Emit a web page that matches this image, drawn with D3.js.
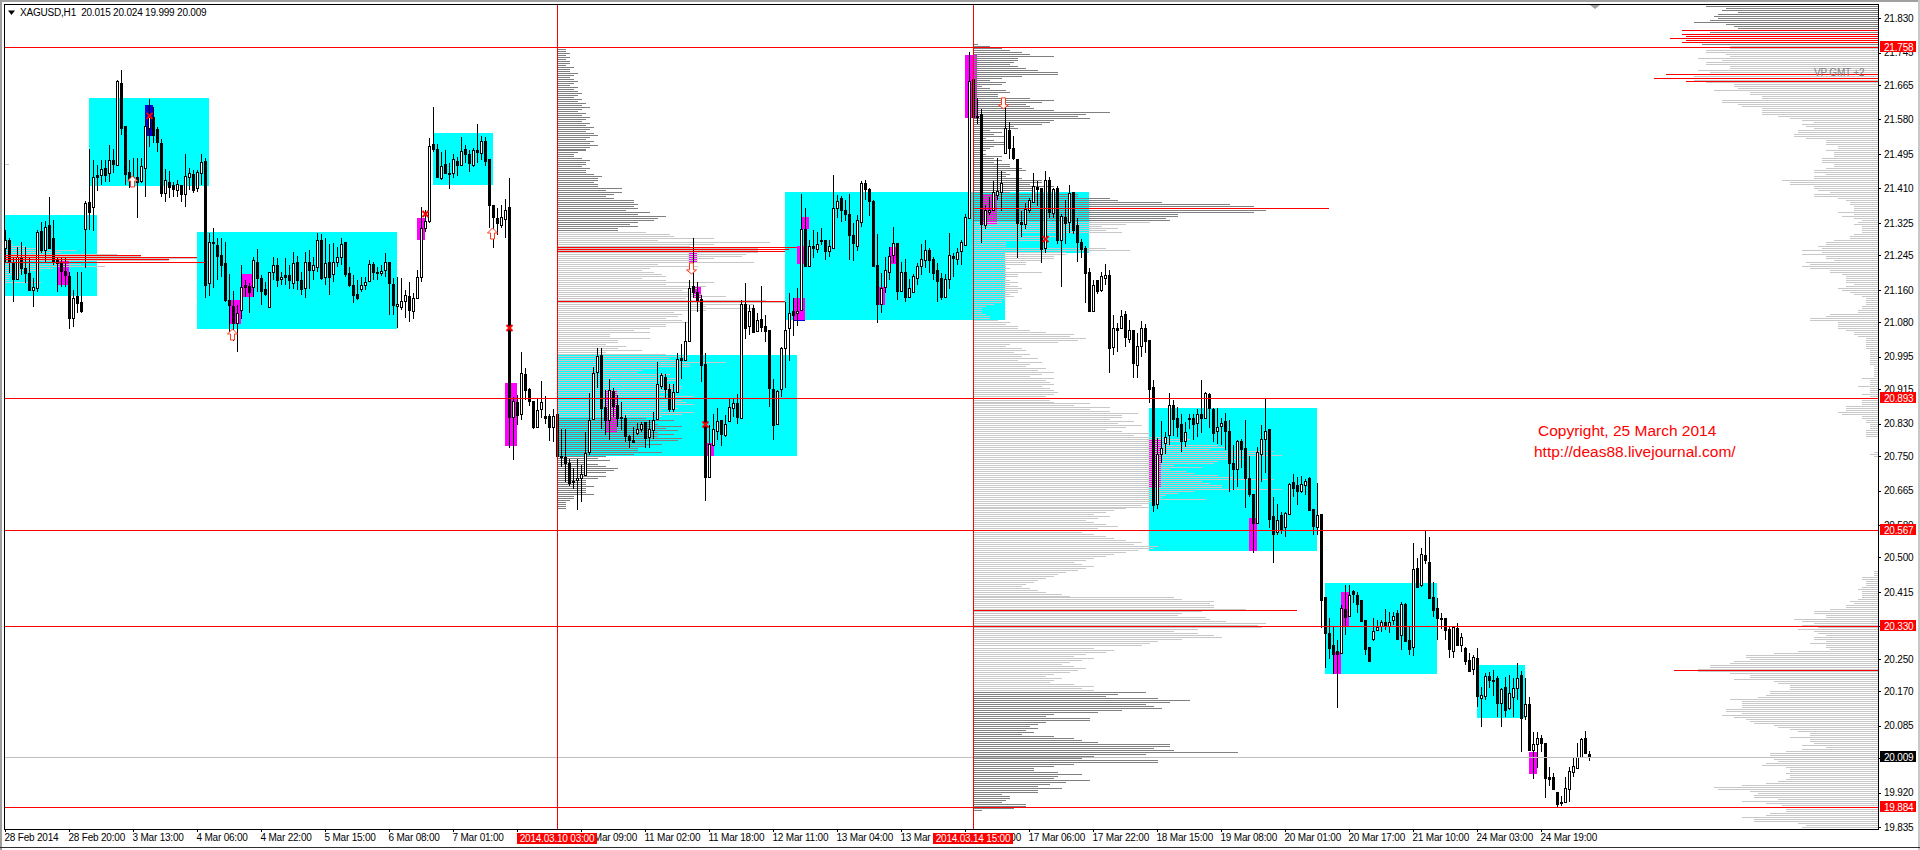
<!DOCTYPE html>
<html><head><meta charset="utf-8">
<script src="https://cdn.jsdelivr.net/npm/d3@7/dist/d3.min.js"></script>
<style>
html,body{margin:0;padding:0;background:#fff;overflow:hidden}
svg{display:block}
text{font-family:"Liberation Sans",Arial,sans-serif;font-size:10px;letter-spacing:-0.2px;fill:#000}
</style></head><body><svg id="c" width="1920" height="850"></svg>
<script>
const symbol="XAGUSD,H1", lastQuote="20.015 20.024 19.999 20.009";
const sides=("wbbwbbbwwb"+"wbbbbbbwbb"+"wbwbwbwbwb"+"bbwbwwwbbb"+"wbbwbwwbww"+"bwbbbbbbww"+"bbwbbbwwbw"+"bbwbbwbwwb"+"wbwwwbbbbw"+"wwbbwwbbww"+
"wbwwwwwbbw"+"bbwbwbbwbw"+"bbbbwwbwbw"+"bbbwwbbwbb"+"bbwwwwwwwb"+"bwbbbbbbww"+"bwwwwbbwwb"+"wwbbbbwwwb"+"wwwbwbwbwb"+"bbbwwwwbww"+
"bwbwbbwwwb"+"bbbwwbbbbw"+"wwwbwbwwww"+"wbbbbwwbww"+"wwbbbwwwww"+"wbbbbwwwbb"+"wbwbwbwbbb"+"bbwbwwbwbw"+"bwbwwbbbww"+"wwbbbwbbwb"+
"wbbwwbbbwb"+"bbbwwwbbwb"+"wwbbwwbbwb"+"bbbbwbwbbb"+"bbwwwbwwbw"+"bbwbwbbbbb"+"bbwbwbbwbw"+"wbbbwbwwwb"+"wbwwbbbbbb"+"wwwwwbb").split("");
const highs=[21.307,21.287,21.242,21.266,21.279,21.266,21.242,21.188,21.307,21.328,
21.330,21.390,21.332,21.242,21.242,21.238,21.205,21.160,21.205,21.205,
21.379,21.507,21.480,21.468,21.480,21.480,21.517,21.507,21.677,21.702,
21.564,21.480,21.484,21.484,21.484,21.579,21.630,21.612,21.562,21.531,
21.458,21.453,21.427,21.432,21.418,21.495,21.460,21.455,21.455,21.496,
21.484,21.299,21.312,21.287,21.287,21.279,21.199,21.157,21.122,21.221,
21.184,21.176,21.242,21.260,21.196,21.180,21.205,21.242,21.238,21.205,
21.238,21.221,21.254,21.243,21.205,21.254,21.258,21.242,21.299,21.297,
21.289,21.272,21.275,21.266,21.287,21.277,21.217,21.196,21.184,21.192,
21.192,21.233,21.229,21.217,21.221,21.250,21.229,21.188,21.192,21.188,
21.160,21.180,21.151,21.209,21.363,21.357,21.534,21.610,21.519,21.501,
21.505,21.472,21.496,21.488,21.536,21.517,21.505,21.509,21.569,21.540,
21.538,21.482,21.369,21.361,21.369,21.383,21.435,20.896,20.901,21.006,
20.966,20.919,20.887,20.892,20.935,20.898,20.854,20.865,20.855,20.818,
20.818,20.744,20.720,20.744,20.728,20.810,20.905,20.970,21.016,21.016,
20.913,20.940,20.917,20.901,20.884,20.851,20.802,20.822,20.831,20.835,
20.835,20.839,20.859,20.981,20.954,20.952,20.929,20.929,21.003,21.026,
21.081,21.184,21.289,21.180,21.147,21.003,20.827,20.854,20.868,20.838,
20.851,20.890,20.892,20.902,21.136,21.176,21.122,21.122,21.102,21.169,
21.099,21.061,20.940,20.913,21.020,21.131,21.153,21.139,21.164,21.396,
21.362,21.283,21.307,21.303,21.312,21.284,21.283,21.443,21.394,21.391,
21.381,21.396,21.324,21.344,21.428,21.431,21.410,21.381,21.298,21.202,
21.242,21.266,21.314,21.274,21.229,21.237,21.186,21.199,21.225,21.274,
21.283,21.262,21.242,21.225,21.201,21.199,21.301,21.252,21.264,21.283,
21.348,21.746,21.681,21.632,21.607,21.369,21.390,21.428,21.484,21.453,
21.616,21.573,21.539,21.482,21.355,21.375,21.387,21.447,21.428,21.410,
21.453,21.439,21.412,21.416,21.347,21.381,21.418,21.400,21.336,21.285,
21.268,21.214,21.184,21.184,21.205,21.224,21.209,21.098,21.077,21.110,
21.108,21.086,21.061,21.053,21.083,21.076,21.036,20.938,20.794,20.837,
20.810,20.905,20.888,20.870,20.855,20.835,20.855,20.855,20.865,20.938,
20.907,20.905,20.868,20.868,20.843,20.857,20.839,20.777,20.790,20.791,
20.839,20.749,20.656,20.773,20.827,20.892,20.816,20.650,20.631,20.613,
20.613,20.683,20.705,20.699,20.701,20.693,20.698,20.619,20.683,20.606,
20.402,20.350,20.329,20.296,20.383,20.432,20.432,20.420,20.416,20.395,
20.346,20.280,20.350,20.347,20.346,20.374,20.366,20.366,20.370,20.391,
20.387,20.329,20.535,20.498,20.523,20.566,20.551,20.440,20.399,20.362,
20.350,20.329,20.328,20.338,20.315,20.280,20.264,20.260,20.276,20.181,
20.214,20.218,20.223,20.208,20.177,20.206,20.209,20.202,20.241,20.221,
20.202,20.157,20.070,20.070,20.062,20.042,19.984,19.968,19.921,19.912,
19.959,19.984,20.007,20.042,20.054,20.072,20.024];
const lows=[21.225,21.201,21.131,21.184,21.196,21.176,21.160,21.118,21.155,21.250,
21.225,21.262,21.221,21.155,21.168,21.168,21.063,21.069,21.102,21.102,
21.215,21.307,21.306,21.404,21.418,21.427,21.427,21.447,21.467,21.542,
21.418,21.410,21.414,21.338,21.423,21.390,21.513,21.523,21.501,21.388,
21.377,21.387,21.390,21.390,21.376,21.363,21.406,21.398,21.402,21.418,
21.139,21.145,21.164,21.184,21.192,21.131,21.050,21.035,21.007,21.087,
21.143,21.104,21.143,21.155,21.122,21.145,21.118,21.184,21.168,21.172,
21.172,21.161,21.161,21.160,21.147,21.139,21.161,21.184,21.205,21.184,
21.172,21.147,21.180,21.217,21.221,21.192,21.168,21.127,21.135,21.155,
21.160,21.180,21.184,21.184,21.194,21.192,21.098,21.098,21.065,21.110,
21.090,21.081,21.087,21.139,21.180,21.303,21.324,21.500,21.435,21.432,
21.447,21.409,21.435,21.441,21.468,21.472,21.451,21.464,21.472,21.480,
21.465,21.312,21.264,21.295,21.312,21.289,20.769,20.740,20.827,20.839,
20.888,20.874,20.818,20.821,20.843,20.829,20.788,20.784,20.742,20.724,
20.687,20.676,20.670,20.617,20.638,20.703,20.752,20.840,20.917,20.818,
20.802,20.790,20.847,20.822,20.814,20.785,20.771,20.783,20.802,20.810,
20.771,20.771,20.791,20.839,20.915,20.892,20.859,20.858,20.909,20.941,
20.985,21.032,21.139,21.106,20.933,20.640,20.695,20.775,20.790,20.776,
20.798,20.835,20.847,20.828,20.843,21.039,21.049,21.054,21.055,21.057,
21.032,20.872,20.790,20.829,20.896,20.919,20.985,21.046,21.072,21.109,
21.217,21.219,21.239,21.252,21.270,21.233,21.242,21.261,21.336,21.328,
21.330,21.233,21.231,21.256,21.316,21.381,21.342,21.217,21.077,21.102,
21.151,21.184,21.225,21.136,21.155,21.131,21.141,21.154,21.172,21.196,
21.213,21.202,21.184,21.131,21.135,21.143,21.162,21.192,21.221,21.221,
21.270,21.336,21.585,21.569,21.276,21.310,21.344,21.354,21.381,21.355,
21.495,21.482,21.480,21.239,21.291,21.310,21.349,21.373,21.367,21.225,
21.252,21.338,21.336,21.273,21.168,21.274,21.301,21.298,21.229,21.238,
21.128,21.105,21.108,21.150,21.155,21.172,20.956,20.999,21.007,21.063,
21.020,21.028,20.943,20.943,20.995,21.005,20.880,20.613,20.620,20.732,
20.755,20.777,20.799,20.798,20.761,20.773,20.818,20.790,20.798,20.806,
20.843,20.820,20.784,20.781,20.777,20.765,20.662,20.666,20.675,20.720,
20.621,20.650,20.510,20.584,20.687,20.708,20.572,20.487,20.555,20.559,
20.550,20.605,20.650,20.629,20.658,20.654,20.617,20.555,20.555,20.325,
20.227,20.249,20.213,20.128,20.262,20.309,20.354,20.387,20.362,20.344,
20.259,20.245,20.295,20.319,20.317,20.321,20.315,20.333,20.299,20.272,
20.293,20.259,20.257,20.424,20.426,20.485,20.399,20.354,20.297,20.324,
20.297,20.251,20.251,20.284,20.268,20.235,20.220,20.210,20.132,20.083,
20.148,20.177,20.158,20.107,20.083,20.106,20.124,20.106,20.148,20.021,
20.099,20.023,19.955,19.980,20.021,19.908,19.936,19.928,19.885,19.888,
19.895,19.898,19.959,19.980,20.009,20.015,19.999];
const bodyTop=[21.284,21.284,21.229,21.242,21.238,21.215,21.202,21.166,21.302,21.305,
21.316,21.319,21.289,21.234,21.225,21.207,21.194,21.141,21.145,21.131,
21.373,21.376,21.439,21.443,21.457,21.460,21.479,21.480,21.674,21.669,
21.564,21.450,21.439,21.439,21.466,21.564,21.587,21.587,21.556,21.521,
21.430,21.427,21.418,21.420,21.418,21.440,21.447,21.446,21.450,21.474,
21.477,21.279,21.279,21.270,21.247,21.225,21.135,21.120,21.104,21.168,
21.172,21.169,21.233,21.229,21.188,21.161,21.203,21.220,21.220,21.191,
21.196,21.196,21.225,21.228,21.184,21.228,21.229,21.220,21.283,21.284,
21.225,21.228,21.229,21.242,21.272,21.277,21.201,21.173,21.150,21.173,
21.180,21.223,21.223,21.203,21.207,21.229,21.229,21.174,21.125,21.133,
21.146,21.145,21.139,21.191,21.312,21.329,21.514,21.519,21.507,21.466,
21.470,21.449,21.482,21.478,21.503,21.507,21.496,21.504,21.505,21.528,
21.526,21.482,21.369,21.337,21.339,21.358,21.363,20.886,20.883,20.956,
20.952,20.915,20.887,20.863,20.883,20.849,20.849,20.850,20.855,20.749,
20.748,20.734,20.689,20.697,20.707,20.757,20.840,20.956,20.997,21.000,
20.872,20.913,20.911,20.876,20.847,20.845,20.800,20.790,20.818,20.829,
20.833,20.818,20.840,20.927,20.949,20.944,20.915,20.909,20.989,20.992,
21.033,21.164,21.169,21.155,21.137,20.977,20.781,20.818,20.836,20.838,
20.828,20.870,20.880,20.880,21.124,21.125,21.109,21.114,21.085,21.088,
21.070,21.060,20.915,20.911,21.016,21.062,21.102,21.107,21.108,21.311,
21.310,21.267,21.267,21.272,21.284,21.284,21.267,21.361,21.380,21.386,
21.358,21.346,21.294,21.332,21.423,21.423,21.409,21.379,21.220,21.165,
21.210,21.244,21.275,21.275,21.205,21.205,21.164,21.194,21.219,21.237,
21.257,21.257,21.237,21.208,21.188,21.186,21.247,21.244,21.254,21.277,
21.339,21.676,21.679,21.589,21.594,21.357,21.358,21.400,21.404,21.423,
21.558,21.554,21.509,21.482,21.326,21.359,21.381,21.415,21.413,21.410,
21.432,21.432,21.408,21.410,21.342,21.340,21.398,21.400,21.320,21.278,
21.263,21.204,21.173,21.183,21.195,21.196,21.197,21.065,21.066,21.095,
21.100,21.060,21.061,21.021,21.065,21.065,21.036,20.920,20.755,20.771,
20.798,20.875,20.875,20.845,20.829,20.810,20.843,20.845,20.853,20.854,
20.905,20.903,20.865,20.821,20.831,20.836,20.813,20.734,20.786,20.786,
20.771,20.697,20.656,20.761,20.791,20.813,20.816,20.602,20.592,20.605,
20.610,20.682,20.685,20.679,20.680,20.688,20.696,20.619,20.605,20.606,
20.402,20.313,20.284,20.269,20.375,20.372,20.407,20.417,20.407,20.395,
20.346,20.280,20.319,20.328,20.340,20.342,20.342,20.356,20.362,20.385,
20.385,20.296,20.471,20.473,20.509,20.506,20.488,20.402,20.375,20.351,
20.350,20.323,20.328,20.326,20.303,20.278,20.247,20.254,20.251,20.160,
20.207,20.207,20.199,20.204,20.175,20.180,20.165,20.177,20.202,20.210,
20.139,20.139,20.039,20.056,20.056,20.042,19.959,19.958,19.921,19.897,
19.931,19.973,19.986,20.007,20.052,20.054,20.015];
const bodyBottom=[21.262,21.229,21.187,21.187,21.213,21.202,21.160,21.160,21.164,21.258,
21.258,21.262,21.232,21.225,21.207,21.196,21.090,21.090,21.128,21.108,
21.309,21.353,21.363,21.439,21.443,21.443,21.447,21.470,21.469,21.560,
21.446,21.433,21.427,21.427,21.429,21.460,21.558,21.542,21.525,21.398,
21.398,21.414,21.409,21.405,21.397,21.397,21.437,21.406,21.410,21.447,
21.172,21.176,21.275,21.243,21.221,21.135,21.122,21.077,21.079,21.110,
21.166,21.155,21.168,21.188,21.157,21.150,21.118,21.203,21.183,21.186,
21.192,21.184,21.176,21.184,21.162,21.164,21.210,21.210,21.217,21.188,
21.191,21.192,21.198,21.229,21.242,21.199,21.172,21.146,21.141,21.161,
21.173,21.182,21.205,21.201,21.202,21.209,21.176,21.122,21.120,21.118,
21.132,21.110,21.109,21.141,21.191,21.312,21.330,21.507,21.439,21.436,
21.447,21.447,21.447,21.468,21.469,21.496,21.472,21.468,21.501,21.498,
21.478,21.369,21.340,21.324,21.320,21.334,20.847,20.846,20.851,20.855,
20.913,20.887,20.822,20.821,20.865,20.845,20.822,20.822,20.749,20.747,
20.734,20.683,20.685,20.691,20.695,20.703,20.761,20.842,20.958,20.868,
20.840,20.839,20.874,20.843,20.845,20.799,20.790,20.785,20.808,20.817,
20.794,20.798,20.814,20.842,20.924,20.915,20.866,20.866,20.909,20.988,
20.988,21.034,21.155,21.133,20.974,20.699,20.698,20.777,20.813,20.804,
20.801,20.837,20.868,20.847,20.845,21.067,21.072,21.057,21.058,21.069,
21.059,20.919,20.827,20.829,20.915,21.017,21.065,21.098,21.102,21.110,
21.219,21.219,21.264,21.261,21.282,21.256,21.256,21.262,21.361,21.357,
21.348,21.295,21.275,21.269,21.328,21.409,21.380,21.219,21.126,21.126,
21.168,21.205,21.246,21.158,21.158,21.143,21.142,21.155,21.190,21.219,
21.233,21.233,21.202,21.182,21.143,21.143,21.187,21.239,21.237,21.256,
21.271,21.338,21.585,21.585,21.322,21.321,21.353,21.356,21.395,21.400,
21.497,21.510,21.484,21.325,21.322,21.323,21.357,21.377,21.409,21.261,
21.262,21.353,21.350,21.283,21.284,21.325,21.328,21.307,21.279,21.261,
21.202,21.108,21.109,21.157,21.160,21.190,21.017,21.018,21.062,21.066,
21.044,21.039,20.980,20.975,21.022,21.035,20.915,20.629,20.633,20.755,
20.782,20.802,20.841,20.821,20.786,20.786,20.841,20.829,20.831,20.845,
20.845,20.868,20.806,20.813,20.823,20.813,20.734,20.719,20.719,20.767,
20.697,20.656,20.584,20.586,20.756,20.791,20.595,20.557,20.564,20.570,
20.574,20.608,20.672,20.664,20.664,20.679,20.617,20.578,20.576,20.395,
20.315,20.278,20.262,20.262,20.264,20.354,20.356,20.410,20.385,20.344,
20.275,20.245,20.299,20.321,20.331,20.331,20.331,20.346,20.299,20.309,
20.293,20.275,20.280,20.428,20.432,20.494,20.399,20.371,20.352,20.349,
20.321,20.275,20.270,20.284,20.284,20.245,20.220,20.226,20.158,20.153,
20.159,20.198,20.195,20.142,20.142,20.125,20.128,20.157,20.177,20.105,
20.110,20.025,20.025,20.040,20.042,19.957,19.955,19.930,19.892,19.895,
19.898,19.929,19.972,19.982,20.009,20.017,20.009];

const priceTicks=[21.83,21.745,21.665,21.58,21.495,21.41,21.325,21.245,21.16,21.08,20.995,20.915,20.83,20.75,20.665,20.58,20.5,20.415,20.33,20.25,20.17,20.085,20.005,19.92,19.835];
const timeTicks=d3.range(0,400,16);
const timeLabels=["28 Feb 2014","28 Feb 20:00","3 Mar 13:00","4 Mar 06:00","4 Mar 22:00","5 Mar 15:00","6 Mar 08:00","7 Mar 01:00","7 Mar 17:00","10 Mar 09:00","11 Mar 02:00","11 Mar 18:00","12 Mar 11:00","13 Mar 04:00","13 Mar 19:00","14 Mar 12:00","17 Mar 06:00","17 Mar 22:00","18 Mar 15:00","19 Mar 08:00","20 Mar 01:00","20 Mar 17:00","21 Mar 10:00","24 Mar 03:00","24 Mar 19:00"];

const levelPrices=[21.758,20.893,20.567,20.330,19.884];
const lastClose=20.009;
const sessionBars=[138,242], sessionLabels=["2014.03.10 03:00","2014.03.14 15:00"];

const zoneStart=[-0.25,21,48,107,138,195,242,286,330,368];
const zoneEnd=[23,51,98,122,198,250,271,328,358,380];
const zoneTop=[21.3445,21.633,21.3026,21.5467,21.0,21.401,21.401,20.8686,20.437,20.235];
const zoneBottom=[21.1447,21.416,21.0634,21.4185,20.751,21.0856,21.2508,20.516,20.2127,20.104];

const pinkStart=[13.25,56,59.25,103,125,150,171,172,175.5,198,199.25,197,218.25,221,240,244.5,286,311,334,332,381];
const pinkEnd=[16,59,62.15,105,128,153,173,174,177.2,200,201,200,220,222.75,243,248,289,313,336,334,383];
const pinkTop=[21.2335,21.1349,21.199,21.337,20.930,20.913,21.254,21.170,20.782,21.268,21.3395,21.140,21.167,21.2655,21.739,21.396,20.790,20.597,20.415,20.267,20.020];
const pinkBottom=[21.1718,21.0757,21.142,21.283,20.775,20.810,21.226,21.140,20.751,21.2244,21.310,21.0856,21.122,21.2244,21.584,21.322,20.675,20.516,20.331,20.213,19.966];
const blueStart=[35,197], blueEnd=[37,200], blueTop=[21.6157,21.0856], blueBottom=[21.540,21.083];

const rowStep=0.00493;
const vpLeft=[1,2,5,8,18,14,28,34,48,41,50,19,25,12,9,4,3,1,1,1,9];
const vp1High=[1,2,2,3,2,3,2,3,3,2,4,3,3,5,4,3,4,5,4,3,5,4,5,6,5,4,6,5,7,6,8,6,5,7,6,8,7,6,8,7,9,8,7,9,10,8,7,9,8,10,8,7];
const vp1Main=[7,5,4,4,6,8,7,7,6,8,7,7,9,11,10,10,9,10,10,16,12,16,14,12,14,19,19,20,19,20,17,23,20,27,25,24,20,18,20,15,15,22,
28,29,39,25,53,39,33,50,50,50,47,46,39,35,49,25,35,23,21,24,26,27,21,27,39,27,37,35,31,34,36,42,32,52,57,49,37,49,37,29,31,30,27,31,33,27,27,23,19,23,13,13,23,15,15,12,17,15,21,12,27,32,28,30,42,33,33,25,21,20,28,25,31,30,25,29,31,31,29,29,25,34,30,31,32,34,28,30,26,34,31,26,
22,29,24,25,31,27,30,25,29,25,31,30,22,26,22,20,20,26,19,12,10,13,7,10,12,15,14,12,7,12,10,7,7,7,9,7,7,7,9,4,4,3,2,2,2,2];
const vp2A=[1,4,7,9,12,14,20,11,11,10,9,11,13,16,21,21,12,7,4,8,7,2,4,8,9,6,6,14,20,17,13,14,15,20,34,28,26,29,20,19,17,10,11,4,7,5,8,3,5,8,8,5,4,3,2,3,7,5,7,5,9,9,12,13,8,9,8,12,17,17,14,20,15,15,9,26,26,34,36,47,64,70,60,73,70,51,51,48,49,44,38,32,36,33,37,12,23,17,17,8,8,8,33,39,23,23,20,20,17,13,13,8,9,8,17,11,11,8,9,11,9,11,12,11,11,9,10,8,7,7,5,3,2,2,2,3,4,4,6,9,8,11,11];
const vp2B=[14,18,25,24,28,26,21,9,8,12,13,10,14,12,16,11,17,14,13,18,16,20,17,14,20,18,19,20,17,19,20,21,20,18,20,19,20];
const vp2C=[29,25,34,29,34,41,37,37,34,40,36,42,38,33,37,44,40,48,52];
const vp2D=[54,52,49,61,63,59,75,71,77,65,68,61,60,50,57,49,53,55,61,65,75,57,59,62,62,77,55,51,48,47,58,46,44,42,44];
const vp2E=[38,35,33,30,34,31,28,30,33,36,31,29,27,30,33,35,38,42,40,46,45,41,38,35,33,30,28,25,27,30,28,26,23,21,20,18,16,15,13,12,14,16,18,22,24];
const vp2F=[50,52,60,59,60,60,68,57,52,51,58,59,63,73,71,72,56,50,56,60,62,52,46,44,42];
const vp2G=[30,35,33,28,25,30,27,24,22,25,28,26,24,20,18,22,20];
const vp2H=[19,25,30,27,30,43,36,33,46,54,49,43,45,47,37,31,20,18,29,29,18,16,14,16,13,15,12,20,25,27,31,49,49,45,50,66,43,30,27,46,46,25,20,15,15,21,27,21,20,29,23,19,16,22,16,16,7,9,9,8,7,13,13,10,2];
const vpRight=[43,38,39,35,40,41,40,42,46,38,36,35,49,42,49,48,52,48,49,
44,37,37,43,43,38,37,45,39,43,43,37,37,45,42,53,46,56,46,43,36,36,35,41,32,32,29,29,39,39,35,34,29,29,29,29,25,22,19,16,19,18,16,20,20,21,21,18,13,13,13,10,10,13,11,11,11,14,14,14,11,11,13,16,16,13,16,16,24,22,22,16,16,15,12,16,16,10,8,7,7,6,6,6,10,6,9,6,4,5,6,4,4,4,4,6,7,7,11,13,13,15,14,19,14,19,13,13,11,18,17,19,17,12,12,9,8,8,8,8,6,8,10,9,7,6,4,3,3,3,3,4,4,5,5,12,13,17,17,10,10,10,10,8,6,6,5,3,3,3,3,3,3,2,2,2,2,2,2,2,2,1,1,1,1,1,1,4,2,2,2,5,2,2,2,4,2,4,4,4,4,8,8,8,10,9,4,4,3,
3,2,2,2,3,3,3,3,0,0,0,0,0,0,0,1,2,1];
const vpRightLow=[1,1,1,4,4,3,3,3,4,5,4,4,4,4,5,7,6,8,8,12,16,16,13,13,21,19,16,19,15,20,16,15,13,16,16,13,17,13,13,12,20,26,33,33,32,36,37,42,42,45,45,37,32,32,36,26,25,22,22,22,27,27,28,30,37,34,34,34,34,38,38,34,39,36,33,32,31,26,25,22,20,17,17,22,17,17,16,19,13,19,23,27,27,23,26,25,28,29,23,22,22,23,22,22,23,25,28,34,41,40,32,30,31,31,25,34,28,24,20,23,23,27,28,34,31,31,20,18,19];

const pocPrice=[21.2459,21.2397,21.2348,21.2298,21.2648,21.2599,21.255,21.1317,21.361,20.3698];
const pocFrom=[-0.25,-0.25,-0.25,-0.25,138,138,138,138,242,242];
const pocTo=[34,48,41,50,198,196,195,195,331,323];
const rightPocPrice=[21.80,21.79,21.785,21.78,21.775,21.77,21.691,21.6816,21.674,20.2218];
const rightPocVol=[49,49,48,52,48,49,53,56,48,51];

const upBar=[32,57,122], upPrice=[21.426,21.0486,21.2976];
const downBar=[172,250], downPrice=[21.214,21.621];
const crossBar=[36,105,126,175,260], crossPrice=[21.589,21.347,21.066,20.828,21.285];
const noteLines=["Copyright, 25 March 2014","http://deas88.livejournal.com/"];

const svg=d3.select("#c");
const W=1920,H=850,L=4,T=4,R=1878,B=829;
const x=d3.scaleLinear([0,396],[5,1589]);
const y=d3.scaleLinear([19.884,21.758],[807.3,47.3]);
const vol=d3.scaleLinear([0,1],[0,4]);
const Y=p=>Math.round(y(p));
const defs=svg.append("defs");
defs.append("clipPath").attr("id","plot").append("rect").attr("x",L).attr("y",T).attr("width",R-L).attr("height",B-T);
const plot=svg.append("g").attr("clip-path","url(#plot)").attr("shape-rendering","crispEdges");

function boxes(cls,color,s,e,t,b){
 plot.append("g").selectAll("rect").data(d3.range(s.length)).join("rect")
  .attr("x",i=>Math.round(x(s[i]))).attr("width",i=>Math.round(x(e[i]))-Math.round(x(s[i])))
  .attr("y",i=>Y(t[i])).attr("height",i=>Math.max(1,Y(b[i])-Y(t[i]))).attr("fill",color);
}
boxes("zone","#00ffff",zoneStart,zoneEnd,zoneTop,zoneBottom);
boxes("pink","#ff00ff",pinkStart,pinkEnd,pinkTop,pinkBottom);
boxes("blue","#0000e0",blueStart,blueEnd,blueTop,blueBottom);

// volume profile rows
const gVP=plot.append("g");
function rows(vals,top,side,hiCut,loCut,x0){
 gVP.append("g").selectAll("rect").data(vals).join("rect")
  .attr("y",(d,i)=>Y(top-i*rowStep)).attr("height",1)
  .attr("x",d=>side>0?x0:x0-vol(d)).attr("width",d=>vol(d))
  .attr("fill",(d,i)=>{const p=top-i*rowStep;return (p>hiCut||p<loCut)?"#808080":"#c8c8c8";});
}
const p1x=Math.round(x(138))+1,p2x=Math.round(x(242))+1;
rows(vpLeft,21.2787,1,99,0,5);
rows([1],21.470,1,99,0,5);
rows(vp1High,21.7587,1,21.3026,20.8462,p1x);
rows(vp1Main,21.5047,1,21.3026,20.8462,p1x);
[[vp2A,21.7654],[vp2B,21.0609],[vp2C,20.881],[vp2D,20.7914],[vp2E,20.6208],[vp2F,20.4018],[vp2G,20.2775],[vp2H,20.1937]]
 .forEach(([v,t])=>rows(v,t,1,21.327,20.1735,p2x));
rows(vpRight,21.8598,-1,21.766,0,R);
rows(vpRightLow,20.4666,-1,21.766,0,R);

// candles
const bars=d3.range(Math.min(highs.length,lows.length,bodyTop.length,bodyBottom.length,sides.length));
const gC=plot.append("g");
gC.append("g").selectAll("rect").data(bars).join("rect")
 .attr("x",i=>Math.round(x(i))).attr("width",1)
 .attr("y",i=>Y(highs[i])).attr("height",i=>Math.max(1,Y(lows[i])-Y(highs[i]))).attr("fill","#000");
gC.append("g").selectAll("rect").data(bars).join("rect")
 .attr("x",i=>Math.round(x(i))-1).attr("width",3)
 .attr("y",i=>Y(bodyTop[i])).attr("height",i=>Math.max(2,Y(bodyBottom[i])-Y(bodyTop[i])+1)).attr("fill","#000");
gC.append("g").selectAll("rect").data(bars.filter(i=>sides[i]==="w"&&Y(bodyBottom[i])-Y(bodyTop[i])>=2)).join("rect")
 .attr("x",i=>Math.round(x(i))).attr("width",1)
 .attr("y",i=>Y(bodyTop[i])+1).attr("height",i=>Y(bodyBottom[i])-Y(bodyTop[i])-1).attr("fill","#fff");

// point-of-control and level lines
const gL=plot.append("g");
gL.selectAll(".poc").data(d3.range(pocPrice.length)).join("rect").attr("class","poc")
 .attr("x",i=>Math.round(x(pocFrom[i]))).attr("width",i=>Math.round(x(pocTo[i]))-Math.round(x(pocFrom[i])))
 .attr("y",i=>Y(pocPrice[i])).attr("height",1).attr("fill","#ff0000");
gL.selectAll(".rpoc").data(d3.range(rightPocPrice.length)).join("rect").attr("class","rpoc")
 .attr("x",i=>R-vol(rightPocVol[i])).attr("width",i=>vol(rightPocVol[i]))
 .attr("y",i=>Y(rightPocPrice[i])).attr("height",1).attr("fill","#ff0000");
gL.append("rect").attr("x",L).attr("width",R-L).attr("y",Y(lastClose)).attr("height",1).attr("fill","#c0c0c0");
gL.selectAll(".lvl").data(levelPrices).join("rect").attr("class","lvl")
 .attr("x",L).attr("width",R-L).attr("y",d=>Y(d)).attr("height",1).attr("fill","#ff0000");
gL.selectAll(".ses").data(sessionBars).join("rect").attr("class","ses")
 .attr("x",d=>Math.round(x(d))).attr("width",1).attr("y",T).attr("height",B-T).attr("fill","#ff0000");

// signal markers
const gM=svg.append("g").attr("fill","#fff").attr("stroke","#ff3a1a").attr("stroke-width",1);
gM.selectAll(".up").data(upBar).join("path").attr("class","up")
 .attr("transform",(d,i)=>`translate(${x(d)-0.5},${y(upPrice[i])})`)
 .attr("d","M0,-6L5,-1L2,-1L2,5L-2,5L-2,-1L-5,-1Z");
gM.selectAll(".dn").data(downBar).join("path").attr("class","dn")
 .attr("transform",(d,i)=>`translate(${x(d)-1.5},${y(downPrice[i])})`)
 .attr("d","M-2,-5L2,-5L2,2L5,2L0,6L-5,2L-2,2Z");
svg.append("g").attr("stroke","#ff0000").attr("stroke-width",2).selectAll("path").data(crossBar).join("path")
 .attr("transform",(d,i)=>`translate(${x(d)+0.5},${y(crossPrice[i])})`)
 .attr("d","M-3,-3L3,3M3,-3L-3,3");

// frame
const frame=svg.append("g").attr("shape-rendering","crispEdges");
frame.append("rect").attr("x",0).attr("y",0).attr("width",W).attr("height",2).attr("fill","#a0a0a0");
frame.append("rect").attr("x",0).attr("y",0).attr("width",2).attr("height",H).attr("fill","#a0a0a0");
frame.append("rect").attr("x",W-2).attr("y",0).attr("width",2).attr("height",H).attr("fill","#c8c8c8");
frame.append("rect").attr("x",0).attr("y",H-3).attr("width",W).attr("height",1).attr("fill","#303030");
frame.append("rect").attr("x",L).attr("y",T).attr("width",R-L).attr("height",1).attr("fill","#000");
frame.append("rect").attr("x",L).attr("y",T).attr("width",1).attr("height",B-T).attr("fill","#000");
frame.append("rect").attr("x",L).attr("y",B).attr("width",R-L+1).attr("height",1).attr("fill","#000");
frame.append("rect").attr("x",R).attr("y",T).attr("width",1).attr("height",B-T).attr("fill","#000");

// axes
const ax=svg.append("g").attr("transform",`translate(0,${B})`).call(d3.axisBottom(x).tickValues(timeTicks).tickFormat((d,i)=>timeLabels[i]).tickSize(3).tickSizeOuter(0));
ax.select(".domain").remove();
ax.selectAll("text").attr("text-anchor","start").attr("dx",-1).attr("y",5);
const ay=svg.append("g").attr("transform",`translate(${R},0)`).call(d3.axisRight(y).tickValues(priceTicks).tickFormat(d3.format(".3f")).tickSize(3).tickPadding(3).tickSizeOuter(0));
ay.select(".domain").remove();
svg.selectAll(".tick line").attr("shape-rendering","crispEdges");
svg.selectAll(".tick text").style("font-family",'"Liberation Sans",Arial,sans-serif').style("font-size","10px").style("letter-spacing","-0.2px");

// price labels
function priceTag(p,bg){
 const g=svg.append("g");
 g.append("rect").attr("x",1880).attr("y",Y(p)-6).attr("width",36).attr("height",11).attr("fill",bg).attr("shape-rendering","crispEdges");
 g.append("text").attr("x",1884).attr("y",Y(p)+3.5).style("fill","#fff").text(p.toFixed(3));
}
levelPrices.forEach(p=>priceTag(p,"#ff0000"));
priceTag(lastClose,"#000000");

// session date labels
sessionBars.forEach((b,i)=>{
 const g=svg.append("g");
 g.append("rect").attr("x",x(b)-40).attr("y",833).attr("width",80).attr("height",11).attr("fill","#ff0000").attr("shape-rendering","crispEdges");
 g.append("text").attr("x",x(b)).attr("y",842).attr("text-anchor","middle").style("fill","#fff").text(sessionLabels[i]);
});

// header
svg.append("path").attr("d","M8,10.5L15,10.5L11.5,15Z").attr("fill","#000");
svg.append("text").attr("x",20).attr("y",16).text(symbol+"  "+lastQuote).attr("xml:space","preserve");
svg.append("path").attr("d","M1590,5L1600,5L1595,9Z").attr("fill","#a0a0a0");
svg.append("text").attr("x",1814).attr("y",75.5).style("fill","#808080").style("font-size","10px").text("VP GMT +2");
svg.append("text").attr("x",1538).attr("y",436).style("fill","#ff0000").style("font-size","15.5px").style("letter-spacing","0").text(noteLines[0]);
svg.append("text").attr("x",1534).attr("y",457).style("fill","#ff0000").style("font-size","15.5px").style("letter-spacing","0").text(noteLines[1]);
</script></body></html>
